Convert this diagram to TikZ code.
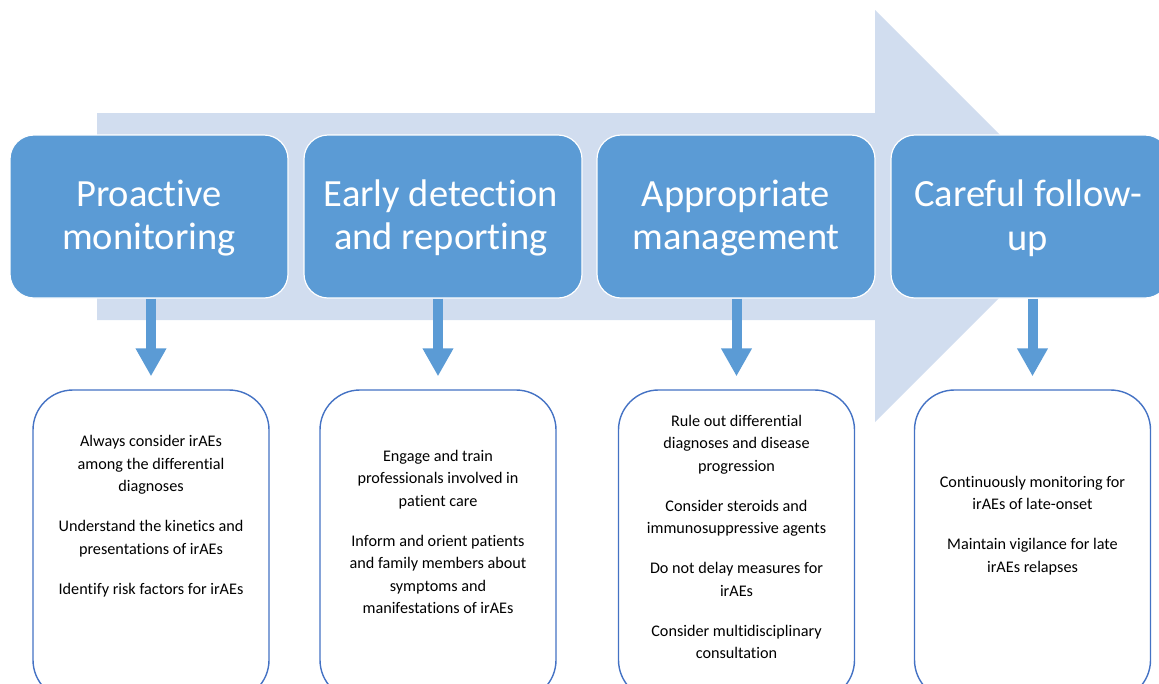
\documentclass[tikz,border=0pt]{standalone}
\usepackage{fontspec}
\setmainfont{Carlito}[Ligatures={NoCommon,NoContextual}]
\usetikzlibrary{arrows.meta}
\definecolor{lightarrow}{RGB}{209,221,239}
\definecolor{stepblue}{RGB}{91,155,213}
\definecolor{boxline}{RGB}{68,114,196}
\tikzset{
  topbox/.style={draw=white, line width=1.2pt, fill=stepblue, rounded corners=24pt,
    minimum width=278pt, minimum height=163pt, inner sep=0pt},
  toptext/.style={text=white, align=center, inner sep=0pt,
    font=\fontsize{38.5}{43.5}\selectfont},
  botbox/.style={draw=boxline, line width=1.4pt, fill=white, rounded corners=40pt,
    minimum width=236pt, minimum height=310pt, inner sep=0pt},
  bottext/.style={text=black, align=center, inner sep=0pt,
    font=\fontsize{16.2}{22.5}\selectfont},
  dn/.style={draw=stepblue, line width=10pt,
    -{Triangle[width=29pt,length=28pt]}, shorten >=13pt},
}
\begin{document}
\begin{tikzpicture}[x=1pt,y=-1pt]
\useasboundingbox (0,0) rectangle (1159,683);
\clip (0,0) rectangle (1159,683);
% background big arrow
\fill[lightarrow] (97,113) -- (875,113) -- (875,10) -- (1081,216) -- (875,422)
  -- (875,320) -- (97,320) -- cycle;
% top boxes
\node[topbox] (t1) at (149,216.5) {};
\node[topbox] (t2) at (443,216.5) {};
\node[topbox] (t3) at (736,216.5) {};
\node[topbox] (t4) at (1030,216.5) {};
\node[toptext] (t1t) at (149,218) {Proactive\\monitoring};
\node[toptext] (t2t) at (441,218) {Early detection\\and reporting};
\node[toptext] (t3t) at (736,218) {Appropriate\\management};
\node[toptext] (t4t) at (1028,218) {Careful follow-\\up};
% bottom boxes
\node[botbox] (b1) at (151,545) {};
\node[botbox] (b2) at (438,545) {};
\node[botbox] (b3) at (736.5,545) {};
\node[botbox] (b4) at (1032.5,545) {};
\node[bottext] (b1t) at (151,516) {Always consider irAEs\\among the differential\\diagnoses\\[17.5pt]Understand the kinetics and\\presentations of irAEs\\[17.5pt]Identify risk factors for irAEs};
\node[bottext] (b2t) at (438,532) {Engage and train\\professionals involved in\\patient care\\[17.5pt]Inform and orient patients\\and family members about\\symptoms and\\manifestations of irAEs};
\node[bottext] (b3t) at (736.5,537) {Rule out differential\\diagnoses and disease\\progression\\[17.5pt]Consider steroids and\\immunosuppressive agents\\[17.5pt]Do not delay measures for\\irAEs\\[17.5pt]Consider multidisciplinary\\consultation};
\node[bottext] (b4t) at (1032.5,525.5) {Continuously monitoring for\\irAEs of late-onset\\[17.5pt]Maintain vigilance for late\\irAEs relapses};
% down arrows
\draw[dn] (t1.south -| b1.north) -- (b1.north);
\draw[dn] (t2.south -| b2.north) -- (b2.north);
\draw[dn] (t3.south -| b3.north) -- (b3.north);
\draw[dn] (t4.south -| b4.north) -- (b4.north);
\end{tikzpicture}
\end{document}
